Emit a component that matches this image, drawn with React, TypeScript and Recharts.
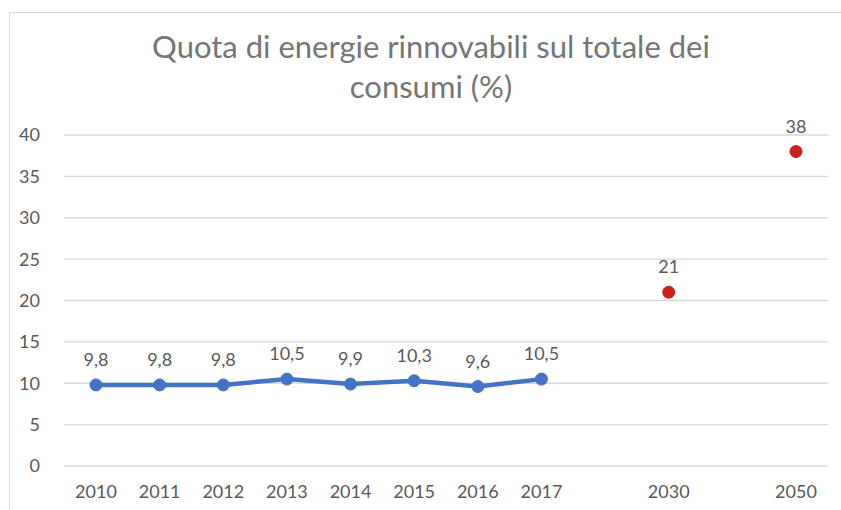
import React from "react";
import { ComposedChart, Line, XAxis, YAxis, CartesianGrid, LabelList } from "recharts";

const categories = ["2010", "2011", "2012", "2013", "2014", "2015", "2016", "2017", "", "2030", "", "2050"];
const historical: (number | null)[] = [9.8, 9.8, 9.8, 10.5, 9.9, 10.3, 9.6, 10.5, null, null, null, null];
const targets: (number | null)[] = [null, null, null, null, null, null, null, null, null, 21, null, 38];
const yTicks = [0, 5, 10, 15, 20, 25, 30, 35, 40];
const titleLines = ["Quota di energie rinnovabili sul totale dei", "consumi (%)"];

const data = categories.map((c, i) => ({ cat: c, hist: historical[i], target: targets[i] }));

const fmt = (v: any) => (v == null ? "" : String(v).replace(".", ","));
const FONT = "Lato, 'Open Sans', sans-serif";

export default function App() {
  return (
    <div style={{ position: "absolute", left: 0, top: 0, width: 841, height: 510, overflow: "hidden", background: "#fff", fontFamily: FONT }}>
      <div style={{ position: "absolute", left: 9, top: 12, width: 900, height: 600, border: "1px solid #d9d9d9", boxSizing: "border-box" }} />
      <div style={{ position: "absolute", left: 0, top: 26, width: 862, textAlign: "center", fontSize: 31, lineHeight: "40px", color: "#757575" }}>
        {titleLines.map((t, i) => (
          <div key={i}>{t}</div>
        ))}
      </div>
      <div style={{ position: "absolute", left: 0, top: 0 }}>
        <ComposedChart width={841} height={510} data={data} margin={{ top: 135, right: 13, bottom: 0, left: 0 }}>
          <CartesianGrid vertical={false} stroke="#d9d9d9" strokeWidth={1.3} />
          <XAxis
            dataKey="cat"
            axisLine={false}
            tickLine={false}
            height={44}
            tickMargin={13}
            interval={0}
            padding={{ left: 32, right: 32 }}
            tick={{ fill: "#595959", fontSize: 18, fontFamily: FONT }}
          />
          <YAxis
            domain={[0, 40]}
            ticks={yTicks}
            width={64}
            axisLine={false}
            tickLine={false}
            tickMargin={18}
            tick={{ fill: "#595959", fontSize: 18, fontFamily: FONT }}
          />
          <Line
            dataKey="hist"
            stroke="#4472C4"
            strokeWidth={4.5}
            dot={{ r: 6, fill: "#4472C4", stroke: "#4472C4", strokeWidth: 1 }}
            isAnimationActive={false}
            connectNulls={false}
          >
            <LabelList dataKey="hist" position="top" offset={19} formatter={fmt} fill="#595959" fontSize={18} fontFamily={FONT} />
          </Line>
          <Line
            dataKey="target"
            stroke="none"
            dot={{ r: 6, fill: "#C9211E", stroke: "#C9211E", strokeWidth: 1 }}
            isAnimationActive={false}
          >
            <LabelList dataKey="target" position="top" offset={19} formatter={fmt} fill="#595959" fontSize={18} fontFamily={FONT} />
          </Line>
        </ComposedChart>
      </div>
    </div>
  );
}
